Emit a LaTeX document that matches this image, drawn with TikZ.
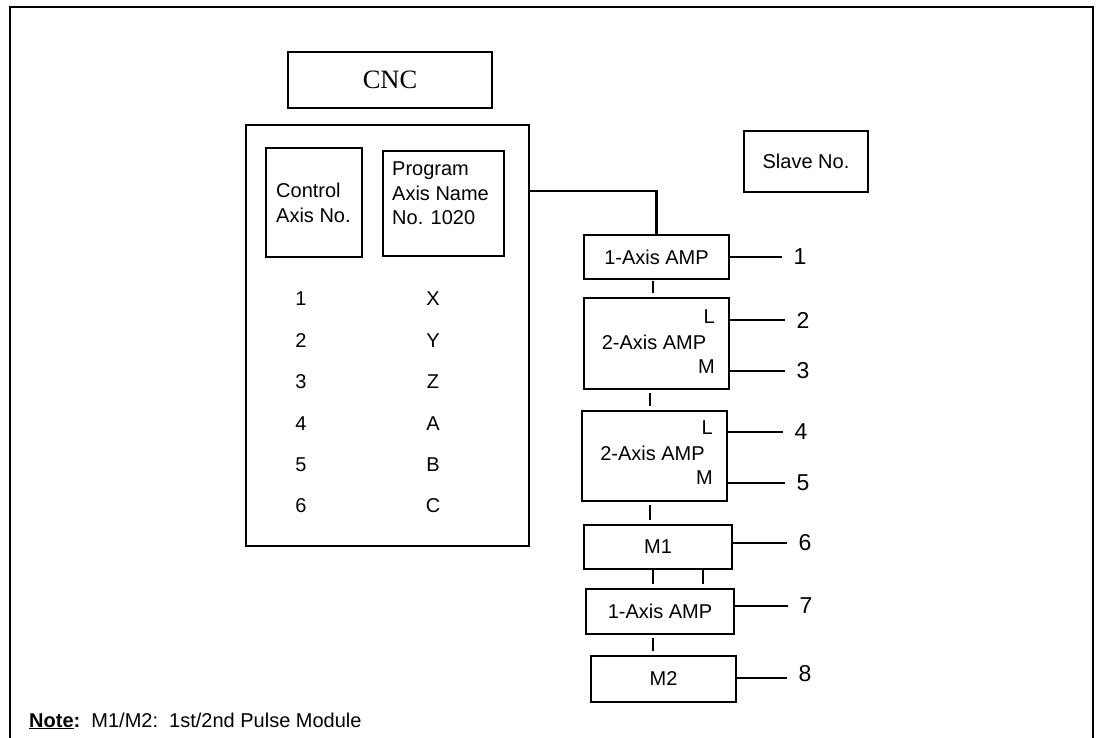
\documentclass[tikz,border=0pt]{standalone}
\usepackage{fontspec}
\setmainfont{Liberation Sans}
\newfontfamily\cncserif{Liberation Serif}
\usetikzlibrary{calc}
\begin{document}
\begin{tikzpicture}[x=1pt,y=-1pt,
  box/.style={draw, line width=2.3pt, inner sep=0pt, font=\fontsize{20}{24.5}\selectfont},
  txt/.style={inner sep=0pt, font=\fontsize{20}{24.5}\selectfont},
  num/.style={inner sep=0pt, inner xsep=11pt, font=\fontsize{23}{27}\selectfont},
  conn/.style={line width=2.3pt, shorten <=1pt, shorten >=4pt},
  wire/.style={line width=2.3pt}
]
\useasboundingbox (0,0) rectangle (1096,738);
% outer frame (open at the bottom)
\draw[line width=2.3pt] (10,745) -- (10,7) -- (1093,7) -- (1093,745);

% CNC side
\node[box, minimum width=204pt, minimum height=56pt, font=\cncserif\fontsize{26.5}{30}\selectfont] (cnc) at (390,80) {CNC};
\node[box, minimum width=283pt, minimum height=421pt] (cncframe) at (387.5,335.5) {};
\node[box, minimum width=96pt, minimum height=109pt] (ctl) at (314,202.5) {};
\node[box, minimum width=121pt, minimum height=105pt] (prog) at (443.5,203.5) {};
\node[txt, align=left, anchor=north west] (ctltxt) at (276,183) {Control\\Axis No.};
\node[txt, align=left, anchor=north west] (progtxt) at (392,162) {Program\\Axis Name\\No. 1020};

\foreach \n/\l [count=\i from 0] in {1/X,2/Y,3/Z,4/A,5/B,6/C}{
  \node[txt] (cn\n) at (301,{299+41.4*\i}) {\n};
  \node[txt] (cl\n) at (433,{299+41.4*\i}) {\l};
}

% Slave No.
\node[box, minimum width=124pt, minimum height=61pt] (slave) at (806,161.5) {Slave No.};

% amplifier chain
\node[box, minimum width=145pt, minimum height=44pt] (A) at (656.5,257) {1-Axis AMP};
\node[box, minimum width=145pt, minimum height=91pt] (B) at (656.5,343.5) {};
\node[box, minimum width=145pt, minimum height=90pt] (C) at (654.5,456) {};
\node[box, minimum width=148pt, minimum height=44pt] (D) at (658,547) {M1};
\node[box, minimum width=148pt, minimum height=45pt] (E) at (660,611.5) {1-Axis AMP};
\node[box, minimum width=145pt, minimum height=46pt] (F) at (663.5,679) {M2};

\node[txt] (Bt) at (654,342) {2-Axis AMP};
\node[txt, anchor=east] (BL) at (715,317) {L};
\node[txt, anchor=east] (BM) at (715,367) {M};
\node[txt] (Ct) at (652.5,453) {2-Axis AMP};
\node[txt, anchor=east] (CL) at (713,428) {L};
\node[txt, anchor=east] (CM) at (713,478) {M};

% slave numbers
\node[num] (s1) at (800,257) {1};
\node[num] (s2) at (803,320) {2};
\node[num] (s3) at (803,371) {3};
\node[num] (s4) at (801,432) {4};
\node[num] (s5) at (803,483) {5};
\node[num] (s6) at (805,543) {6};
\node[num] (s7) at (806,606) {7};
\node[num] (s8) at (805,674) {8};

% CNC to first amplifier
\draw[wire] ($(cncframe.north east)+(0,67)$) -| (A.north);

% vertical links
\draw[conn] (A.south -| 653,0) -- (B.north -| 653,0);
\draw[conn, shorten <=3pt] (B.south -| 650,0) -- (C.north -| 650,0);
\draw[conn, shorten <=3pt] (C.south -| 650,0) -- (D.north -| 650,0);
\draw[conn, shorten <=0pt] (D.south -| 653,0) -- (E.north -| 653,0);
\draw[conn, shorten <=0pt] (D.south -| 703,0) -- (E.north -| 703,0);
\draw[conn, shorten <=3pt] (E.south -| 653,0) -- (F.north -| 653,0);

% slave number links
\draw[wire] (A.east |- s1) -- (s1.west);
\draw[wire] (B.east |- s2) -- (s2.west);
\draw[wire] (B.east |- s3) -- (s3.west);
\draw[wire] (C.east |- s4) -- (s4.west);
\draw[wire] (C.east |- s5) -- (s5.west);
\draw[wire] (D.east |- s6) -- (s6.west);
\draw[wire] (E.east |- s7) -- (s7.west);
\draw[wire] (F.east |- 0,678) -- (s8.west |- 0,678);

% note
\node[txt, anchor=base west] (note) at (29,727) {\textbf{\underline{Note}:}\ \ M1/M2:\ \ 1st/2nd Pulse Module};
\end{tikzpicture}
\end{document}
